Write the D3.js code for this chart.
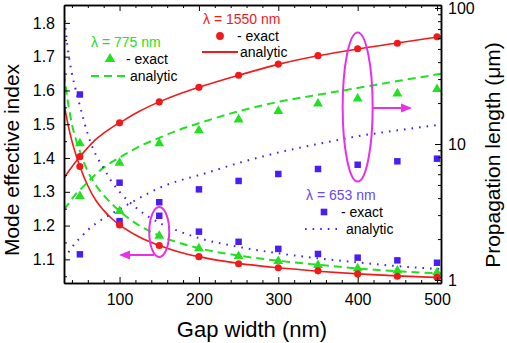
<!DOCTYPE html>
<html>
<head>
<meta charset="utf-8">
<script src="https://cdn.jsdelivr.net/npm/d3@7"></script>
<style>
  body { margin: 0; background: #fff; }
  svg { font-family: Arial, "Liberation Sans", sans-serif; }
</style>
</head>
<body>
<svg id="chart" width="507" height="343"></svg>
<script>
// exact points (symbols)
const gap = [50, 100, 150, 200, 250, 300, 350, 400, 450, 500];
const idx1550 = [1.375, 1.202, 1.141, 1.108, 1.087, 1.075, 1.066, 1.057, 1.050, 1.047];
const idx775 = [1.442, 1.241, 1.168, 1.131, 1.108, 1.093, 1.081, 1.072, 1.065, 1.060];
const idx653 = [1.588, 1.327, 1.229, 1.182, 1.152, 1.131, 1.116, 1.105, 1.097, 1.090];
const len1550 = [8.07, 14.3, 20.4, 26.1, 32.0, 38.7, 44.6, 50.2, 55.0, 61.5];
const len775 = [4.1, 7.2, 10.0, 12.5, 15.0, 17.3, 19.6, 21.4, 23.3, 25.1];
const len653 = [1.545, 2.71, 3.73, 4.64, 5.35, 6.02, 6.55, 7.04, 7.46, 7.8];

// analytic curves
const fitGap = [30, 35, 40, 45, 50, 60, 70, 80, 90, 100, 125, 150, 175, 200, 250, 300, 350, 400, 450, 505];
const fitIdx1550 = [1.560, 1.500, 1.450, 1.410, 1.375, 1.318, 1.275, 1.245, 1.221, 1.202, 1.166, 1.141, 1.122, 1.108, 1.088, 1.075, 1.065, 1.057, 1.051, 1.046];
const fitIdx775 = [1.650, 1.565, 1.500, 1.455, 1.420, 1.360, 1.320, 1.290, 1.265, 1.243, 1.200, 1.170, 1.149, 1.133, 1.111, 1.096, 1.084, 1.073, 1.065, 1.058];
const fitIdx653 = [1.830, 1.720, 1.650, 1.600, 1.555, 1.470, 1.410, 1.370, 1.330, 1.300, 1.245, 1.208, 1.183, 1.163, 1.137, 1.118, 1.103, 1.091, 1.080, 1.071];
const fitLen1550 = [5.6, 6.2, 6.8, 7.45, 8.07, 9.4, 10.8, 12.0, 13.2, 14.3, 17.4, 20.4, 23.3, 26.1, 32.0, 38.5, 44.5, 50.0, 55.3, 61.8];
const fitLen775 = [3.3, 3.6, 3.95, 4.3, 4.6, 5.25, 6.0, 6.7, 7.35, 7.95, 9.6, 11.1, 12.7, 14.2, 17.4, 20.4, 23.0, 25.8, 29.0, 32.8];
const fitLen653 = [1.44, 1.58, 1.74, 1.9, 2.03, 2.33, 2.6, 2.84, 3.07, 3.32, 4.0, 4.76, 5.37, 5.9, 7.25, 8.65, 10.0, 11.4, 12.6, 13.9];

const xMajor = [100, 200, 300, 400, 500];
const yLeftMajor = [1.1, 1.2, 1.3, 1.4, 1.5, 1.6, 1.7, 1.8];
const yRightMajor = [1, 10, 100];

const RED = "#f01a1a", GREEN = "#22e022", BLUE = "#4a1ef0", MAGENTA = "#e830e8";

const svg = d3.select("#chart");
const plot = { left: 64, right: 441, top: 5, bottom: 283 };

const x = d3.scaleLinear().domain([30, 505]).range([plot.left, plot.right]);
const yL = d3.scaleLinear().domain([1.03, 1.853]).range([plot.bottom, plot.top]);
const yR = d3.scaleLog().domain([Math.pow(10, -0.022), Math.pow(10, 2.022)]).range([plot.bottom, plot.top]);

svg.append("clipPath").attr("id", "clip")
  .append("rect")
  .attr("x", plot.left).attr("y", plot.top)
  .attr("width", plot.right - plot.left).attr("height", plot.bottom - plot.top);

const g = svg.append("g").attr("clip-path", "url(#clip)");

const toPts = (xs, ys) => xs.map((v, i) => [v, ys[i]]);
const lineL = d3.line().x(d => x(d[0])).y(d => yL(d[1])).curve(d3.curveMonotoneX);
const lineR = d3.line().x(d => x(d[0])).y(d => yR(d[1])).curve(d3.curveMonotoneX);

const series = [
  { pts: toPts(fitGap, fitIdx1550), line: lineL, color: RED, dash: null, w: 1.6 },
  { pts: toPts(fitGap, fitLen1550), line: lineR, color: RED, dash: null, w: 1.6 },
  { pts: toPts(fitGap, fitIdx775), line: lineL, color: GREEN, dash: "8,5", w: 2 },
  { pts: toPts(fitGap, fitLen775), line: lineR, color: GREEN, dash: "8,5", w: 2 },
  { pts: toPts(fitGap, fitIdx653), line: lineL, color: BLUE, dash: "1.6,6", w: 2 },
  { pts: toPts(fitGap, fitLen653), line: lineR, color: BLUE, dash: "1.6,6", w: 2 },
];

g.selectAll("path.fit")
  .data(series)
  .enter()
  .append("path")
  .attr("class", "fit")
  .attr("d", d => d.line(d.pts))
  .attr("fill", "none")
  .attr("stroke", d => d.color)
  .attr("stroke-width", d => d.w)
  .attr("stroke-dasharray", d => d.dash);

// symbols
const circles = toPts(gap, idx1550).map(d => [x(d[0]), yL(d[1])])
  .concat(toPts(gap, len1550).map(d => [x(d[0]), yR(d[1])]));
const triangles = toPts(gap, idx775).map(d => [x(d[0]), yL(d[1])])
  .concat(toPts(gap, len775).map(d => [x(d[0]), yR(d[1])]));
const squares = toPts(gap, idx653).map(d => [x(d[0]), yL(d[1])])
  .concat(toPts(gap, len653).map(d => [x(d[0]), yR(d[1])]));

const triSym = d3.symbol().type(d3.symbolTriangle).size(42);
const sqSym = d3.symbol().type(d3.symbolSquare).size(42);
const cirSym = d3.symbol().type(d3.symbolCircle).size(40);

svg.selectAll("path.sq").data(squares).enter().append("path")
  .attr("class", "sq").attr("d", sqSym)
  .attr("transform", d => `translate(${d[0]},${d[1]})`).attr("fill", BLUE);
svg.selectAll("path.tri").data(triangles).enter().append("path")
  .attr("class", "tri").attr("d", triSym)
  .attr("transform", d => `translate(${d[0]},${d[1] - 0.5})`).attr("fill", GREEN);
svg.selectAll("path.cir").data(circles).enter().append("path")
  .attr("class", "cir").attr("d", cirSym)
  .attr("transform", d => `translate(${d[0]},${d[1]})`).attr("fill", RED);

// axes, ticks pointing inward
const xMinor = d3.range(40, 505, 20).filter(v => v % 100 !== 0);
const yMinor = d3.range(1.05, 1.85, 0.1).map(v => +v.toFixed(2));
const rMinor = [];
[1, 10, 100].forEach(dec => { for (let k = 2; k <= 9; k++) if (dec * k < 105) rMinor.push(dec * k); });

const axisStyle = sel => {
  sel.selectAll(".domain").attr("stroke", "#000").attr("stroke-width", 1.5);
  sel.selectAll(".tick line").attr("stroke", "#000").attr("stroke-width", 1);
  sel.selectAll(".tick text").attr("font-size", 16).attr("fill", "#000")
    .attr("font-family", "Arial, 'Liberation Sans', sans-serif");
};

svg.append("g").attr("transform", `translate(0,${plot.bottom})`)
  .call(d3.axisBottom(x).tickValues(xMajor).tickSizeInner(-6).tickSizeOuter(0).tickPadding(11))
  .call(axisStyle);
svg.append("g").attr("transform", `translate(0,${plot.bottom})`)
  .call(d3.axisBottom(x).tickValues(xMinor).tickSizeInner(-3).tickSizeOuter(0).tickFormat(""))
  .call(axisStyle);
svg.append("g").attr("transform", `translate(0,${plot.top})`)
  .call(d3.axisTop(x).tickValues(xMajor).tickSizeInner(-6).tickSizeOuter(0).tickFormat(""))
  .call(axisStyle);
svg.append("g").attr("transform", `translate(0,${plot.top})`)
  .call(d3.axisTop(x).tickValues(xMinor).tickSizeInner(-3).tickSizeOuter(0).tickFormat(""))
  .call(axisStyle);

svg.append("g").attr("transform", `translate(${plot.left},0)`)
  .call(d3.axisLeft(yL).tickValues(yLeftMajor).tickSizeInner(-6).tickSizeOuter(0).tickPadding(9).tickFormat(d3.format(".1f")))
  .call(axisStyle);
svg.append("g").attr("transform", `translate(${plot.left},0)`)
  .call(d3.axisLeft(yL).tickValues(yMinor).tickSizeInner(-3).tickSizeOuter(0).tickFormat(""))
  .call(axisStyle);

svg.append("g").attr("transform", `translate(${plot.right},0)`)
  .call(d3.axisRight(yR).tickValues(yRightMajor).tickSizeInner(-6).tickSizeOuter(0).tickPadding(7).tickFormat(d3.format("d")))
  .call(axisStyle);
svg.append("g").attr("transform", `translate(${plot.right},0)`)
  .call(d3.axisRight(yR).tickValues(rMinor).tickSizeInner(-3).tickSizeOuter(0).tickFormat(""))
  .call(axisStyle);

// axis titles
svg.append("text").attr("x", 252).attr("y", 337).attr("text-anchor", "middle")
  .attr("font-size", 22).text("Gap width (nm)");
svg.append("text").attr("transform", "translate(19,160) rotate(-90)").attr("text-anchor", "middle")
  .attr("font-size", 21).text("Mode effective index");
svg.append("text").attr("transform", "translate(500,155) rotate(-90)").attr("text-anchor", "middle")
  .attr("font-size", 21).text("Propagation length (\u03bcm)");

// legends
const leg = svg.append("g").attr("font-size", 14);
// 775 nm
leg.append("text").attr("x", 91).attr("y", 47).attr("fill", GREEN).text("\u03bb = 775 nm");
leg.append("path").attr("d", d3.symbol().type(d3.symbolTriangle).size(48))
  .attr("transform", "translate(110,59)").attr("fill", GREEN);
leg.append("text").attr("x", 126).attr("y", 64).text("- exact");
leg.append("line").attr("x1", 91).attr("x2", 126).attr("y1", 76).attr("y2", 76)
  .attr("stroke", GREEN).attr("stroke-width", 2).attr("stroke-dasharray", "8,5");
leg.append("text").attr("x", 130).attr("y", 81).text("analytic");
// 1550 nm
leg.append("text").attr("x", 203).attr("y", 24).attr("fill", RED).text("\u03bb = 1550 nm");
leg.append("path").attr("d", d3.symbol().type(d3.symbolCircle).size(48))
  .attr("transform", "translate(220,36)").attr("fill", RED);
leg.append("text").attr("x", 237).attr("y", 41).text("- exact");
leg.append("line").attr("x1", 202).attr("x2", 238).attr("y1", 52).attr("y2", 52)
  .attr("stroke", RED).attr("stroke-width", 1.8);
leg.append("text").attr("x", 240).attr("y", 57).text("analytic");
// 653 nm
leg.append("text").attr("x", 306).attr("y", 200).attr("fill", "#6a48ee").text("\u03bb = 653 nm");
leg.append("path").attr("d", d3.symbol().type(d3.symbolSquare).size(44))
  .attr("transform", "translate(324,212)").attr("fill", BLUE);
leg.append("text").attr("x", 341).attr("y", 217).text("- exact");
leg.append("line").attr("x1", 305).attr("x2", 343).attr("y1", 229).attr("y2", 229)
  .attr("stroke", BLUE).attr("stroke-width", 2).attr("stroke-dasharray", "1.6,6");
leg.append("text").attr("x", 346).attr("y", 234).text("analytic");

// annotations: ellipses and arrows
svg.append("ellipse").attr("cx", x(150)).attr("cy", 232).attr("rx", 10).attr("ry", 25)
  .attr("fill", "none").attr("stroke", MAGENTA).attr("stroke-width", 2);
svg.append("ellipse").attr("cx", x(400)).attr("cy", 107).attr("rx", 15).attr("ry", 74.5)
  .attr("fill", "none").attr("stroke", MAGENTA).attr("stroke-width", 2);

svg.append("line").attr("x1", 154).attr("x2", 128).attr("y1", 255).attr("y2", 255)
  .attr("stroke", MAGENTA).attr("stroke-width", 2);
svg.append("path").attr("d", "M119,255 L130,250.5 L130,259.5 Z").attr("fill", MAGENTA);
svg.append("line").attr("x1", 372).attr("x2", 402).attr("y1", 108).attr("y2", 108)
  .attr("stroke", MAGENTA).attr("stroke-width", 2);
svg.append("path").attr("d", "M412,108 L401,103.5 L401,112.5 Z").attr("fill", MAGENTA);
</script>
</body>
</html>
